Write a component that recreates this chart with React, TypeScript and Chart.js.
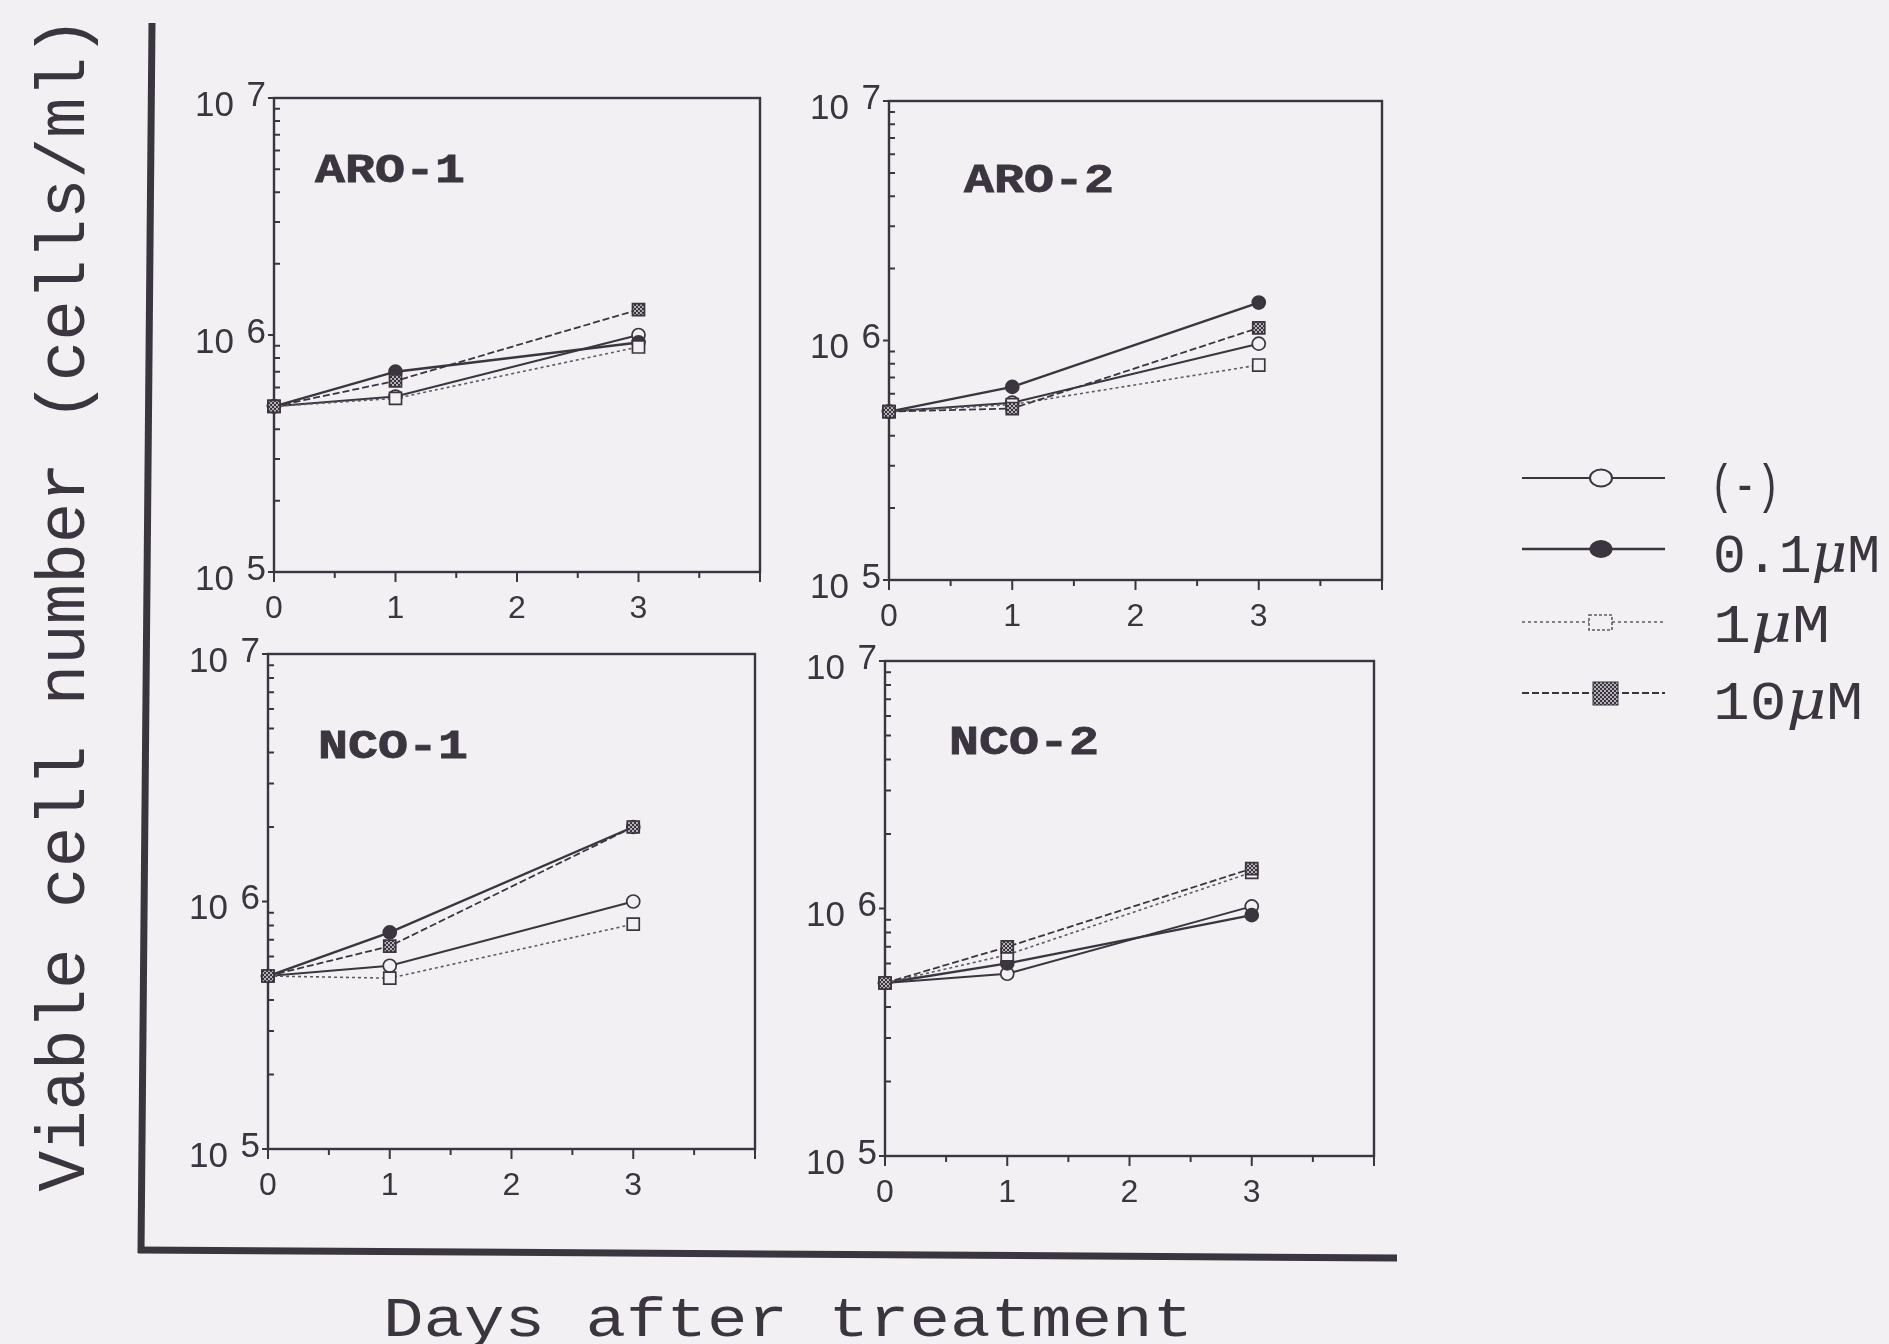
import React, { useEffect, useRef } from "react";
import { Chart, registerables } from "chart.js";

Chart.register(...registerables);

// ---- data ---------------------------------------------------------------
const DAYS = [0, 1, 3];
const SERIES_LABELS = ["(-)", "0.1μM", "1μM", "10μM"];
const PANEL_NAMES = ["ARO-1", "ARO-2", "NCO-1", "NCO-2"];

// viable cells / ml, one array per treatment and cell line
const ARO1_NONE = [5.0e5, 5.5e5, 1.0e6];
const ARO1_01 = [5.0e5, 7.0e5, 9.3e5];
const ARO1_1 = [5.0e5, 5.4e5, 8.9e5];
const ARO1_10 = [5.0e5, 6.4e5, 1.28e6];

const ARO2_NONE = [5.05e5, 5.5e5, 9.7e5];
const ARO2_01 = [5.05e5, 6.4e5, 1.44e6];
const ARO2_1 = [5.05e5, 5.4e5, 7.9e5];
const ARO2_10 = [5.05e5, 5.2e5, 1.13e6];

const NCO1_NONE = [5.0e5, 5.5e5, 1.0e6];
const NCO1_01 = [5.0e5, 7.5e5, 2.0e6];
const NCO1_1 = [5.0e5, 4.9e5, 8.1e5];
const NCO1_10 = [5.0e5, 6.6e5, 2.0e6];

const NCO2_NONE = [5.0e5, 5.45e5, 1.02e6];
const NCO2_01 = [5.0e5, 6.0e5, 9.4e5];
const NCO2_1 = [5.0e5, 6.5e5, 1.4e6];
const NCO2_10 = [5.0e5, 7.0e5, 1.45e6];

const PANEL_SERIES = [
  [ARO1_NONE, ARO1_01, ARO1_1, ARO1_10],
  [ARO2_NONE, ARO2_01, ARO2_1, ARO2_10],
  [NCO1_NONE, NCO1_01, NCO1_1, NCO1_10],
  [NCO2_NONE, NCO2_01, NCO2_1, NCO2_10],
];

// axis ticks
const X_MIN = 0;
const X_MAX = 4;
const X_TICK_STEP = 0.5;
const X_TICK_LABELS = ["0", "1", "2", "3"];
const Y_DECADES = [1e5, 1e6, 1e7];
const Y_EXPONENTS = ["5", "6", "7"];
const Y_MINOR_MULTIPLIERS = [2, 3, 4, 5, 6, 7, 8, 9];

const Y_TITLE = "Viable cell number (cells/ml)";
const X_TITLE = "Days after treatment";

// ---- look ---------------------------------------------------------------
const INK = "#3b3540";
const GREY_INK = "#5f5963";
const PAPER = "#f3f0f3";
const MONO = "'Liberation Mono', 'Courier New', monospace";
const SANS = "'Liberation Sans', Arial, sans-serif";

// plot areas (chart area rectangles) of the four panels
const PANEL_RECTS = [
  { left: 274, top: 98, right: 760, bottom: 572 },
  { left: 889, top: 101, right: 1382, bottom: 580 },
  { left: 268, top: 654, right: 755, bottom: 1149 },
  { left: 885, top: 661, right: 1374, bottom: 1156 },
];
const PANEL_TITLE_POS = [
  { x: 315, y: 182 },
  { x: 964, y: 192 },
  { x: 318, y: 758 },
  { x: 949, y: 754 },
];
const PAD = { left: 100, top: 30, right: 24, bottom: 64 };

function makeChecker(): CanvasPattern | string {
  const c = document.createElement("canvas");
  c.width = 4;
  c.height = 4;
  const g = c.getContext("2d");
  if (!g) return INK;
  g.fillStyle = "#b5afb8";
  g.fillRect(0, 0, 4, 4);
  g.fillStyle = INK;
  g.fillRect(0, 0, 2, 2);
  g.fillRect(2, 2, 2, 2);
  return g.createPattern(c, "repeat") || INK;
}

// frame, ticks and tick labels of one panel, placed through the chart scales
const panelFrame = {
  id: "panelFrame",
  beforeDatasetsDraw(chart: any) {
    const { ctx, chartArea: a, scales } = chart;
    const x = scales.x;
    const y = scales.y;
    ctx.save();
    ctx.strokeStyle = INK;
    ctx.lineWidth = 2.4;
    ctx.strokeRect(a.left, a.top, a.right - a.left, a.bottom - a.top);

    ctx.lineWidth = 2;
    ctx.beginPath();
    for (let v = X_MIN; v <= X_MAX + 1e-9; v += X_TICK_STEP) {
      const px = x.getPixelForValue(v);
      const len = Math.abs(v - Math.round(v)) < 1e-9 ? 10 : 6;
      ctx.moveTo(px, a.bottom);
      ctx.lineTo(px, a.bottom + len);
    }
    Y_DECADES.forEach((d) => {
      const py = y.getPixelForValue(d);
      ctx.moveTo(a.left - 6, py);
      ctx.lineTo(a.left, py);
    });
    Y_DECADES.slice(0, -1).forEach((d) => {
      Y_MINOR_MULTIPLIERS.forEach((m) => {
        const py = y.getPixelForValue(d * m);
        ctx.moveTo(a.left, py);
        ctx.lineTo(a.left + 6, py);
      });
    });
    ctx.stroke();

    ctx.fillStyle = INK;
    ctx.textBaseline = "middle";
    ctx.textAlign = "center";
    ctx.font = `32px ${SANS}`;
    X_TICK_LABELS.forEach((l) => {
      ctx.fillText(l, x.getPixelForValue(Number(l)), a.bottom + 37);
    });

    ctx.textAlign = "right";
    ctx.font = `35px ${SANS}`;
    Y_DECADES.forEach((d, i) => {
      const py = y.getPixelForValue(d);
      ctx.fillText("10", a.left - 40, py + 8);
      ctx.fillText(Y_EXPONENTS[i], a.left - 8, py - 2);
    });
    ctx.restore();
  },
};

function Panel({ index }: { index: number }) {
  const ref = useRef<HTMLCanvasElement>(null);
  const r = PANEL_RECTS[index];
  const w = r.right - r.left + PAD.left + PAD.right;
  const h = r.bottom - r.top + PAD.top + PAD.bottom;

  useEffect(() => {
    if (!ref.current) return;
    const checker = makeChecker();
    const series = PANEL_SERIES[index];
    const styles = [
      { borderColor: INK, borderWidth: 2, borderDash: [] as number[], pointStyle: "circle", pointRadius: 6.5, pointBackgroundColor: PAPER, order: 3 },
      { borderColor: INK, borderWidth: 2.4, borderDash: [] as number[], pointStyle: "circle", pointRadius: 6.5, pointBackgroundColor: INK, order: 2 },
      { borderColor: GREY_INK, borderWidth: 1.6, borderDash: [3, 3], pointStyle: "rect", pointRadius: 8.5, pointBackgroundColor: PAPER, order: 1 },
      { borderColor: INK, borderWidth: 1.8, borderDash: [7, 3], pointStyle: "rect", pointRadius: 8.5, pointBackgroundColor: checker, order: 0 },
    ];
    const chart = new Chart(ref.current, {
      type: "line",
      data: {
        datasets: series.map((vals, i) => ({
          label: SERIES_LABELS[i],
          data: DAYS.map((d, k) => ({ x: d, y: vals[k] })),
          order: styles[i].order,
          borderColor: styles[i].borderColor,
          borderWidth: styles[i].borderWidth,
          borderDash: styles[i].borderDash,
          pointStyle: styles[i].pointStyle as any,
          pointRadius: styles[i].pointRadius,
          pointBorderWidth: 1.7,
          pointBorderColor: INK,
          pointBackgroundColor: styles[i].pointBackgroundColor as any,
          tension: 0,
          fill: false,
          clip: false as any,
        })),
      },
      options: {
        animation: false,
        responsive: false,
        maintainAspectRatio: false,
        devicePixelRatio: 1,
        layout: { padding: PAD },
        plugins: { legend: { display: false }, tooltip: { enabled: false }, title: { display: false } },
        scales: {
          x: { type: "linear", min: X_MIN, max: X_MAX, display: false },
          y: { type: "logarithmic", min: Y_DECADES[0], max: Y_DECADES[Y_DECADES.length - 1], display: false },
        },
      },
      plugins: [panelFrame],
    });
    return () => chart.destroy();
  }, [index]);

  return (
    <canvas
      ref={ref}
      width={w}
      height={h}
      style={{ position: "absolute", left: r.left - PAD.left, top: r.top - PAD.top, width: w, height: h }}
    />
  );
}

function LegendText({ label, x, y, len }: { label: string; x: number; y: number; len: number }) {
  const parts = label.split("μ");
  return (
    <text x={x} y={y} fontFamily={MONO} fontSize={54} fill={INK} textLength={len} lengthAdjust="spacingAndGlyphs">
      {parts.length === 1 ? (
        label
      ) : (
        <>
          {parts[0]}
          <tspan fontStyle="italic" fontFamily="'DejaVu Serif', serif">μ</tspan>
          {parts[1]}
        </>
      )}
    </text>
  );
}

export default function App() {
  const legendLineY = [478, 549, 622, 693];
  const legendBase = [502, 572, 642, 719];
  const legendLen = [70, 167, 117, 150];

  return (
    <div style={{ position: "absolute", left: 0, top: 0, width: 1889, height: 1344, background: PAPER, overflow: "hidden" }}>
      {PANEL_RECTS.map((_, i) => (
        <Panel key={i} index={i} />
      ))}
      <svg width={1889} height={1344} style={{ position: "absolute", left: 0, top: 0, pointerEvents: "none" }}>
        <defs>
          <pattern id="checker" width="4" height="4" patternUnits="userSpaceOnUse">
            <rect width="4" height="4" fill="#b5afb8" />
            <rect width="2" height="2" fill={INK} />
            <rect x="2" y="2" width="2" height="2" fill={INK} />
          </pattern>
        </defs>

        {/* outer L-shaped frame */}
        <line x1={152} y1={23} x2={141} y2={1253} stroke={INK} strokeWidth={7} />
        <line x1={138} y1={1250} x2={1397} y2={1258} stroke={INK} strokeWidth={7} />

        {/* axis titles */}
        <text
          transform="translate(84 604) rotate(-90)"
          textAnchor="middle"
          fontFamily={MONO}
          fontSize={68}
          fill={INK}
          textLength={1175}
          lengthAdjust="spacingAndGlyphs"
        >
          {Y_TITLE}
        </text>
        <text x={383} y={1336} fontFamily={MONO} fontSize={55} fill={INK} textLength={810} lengthAdjust="spacingAndGlyphs">
          {X_TITLE}
        </text>

        {/* panel names */}
        {PANEL_NAMES.map((n, i) => (
          <text
            key={n}
            x={PANEL_TITLE_POS[i].x}
            y={PANEL_TITLE_POS[i].y}
            fontFamily={MONO}
            fontWeight="bold"
            fontSize={41}
            fill={INK}
            stroke={INK}
            strokeWidth={0.8}
            textLength={150}
            lengthAdjust="spacingAndGlyphs"
          >
            {n}
          </text>
        ))}

        {/* legend */}
        <line x1={1522} y1={legendLineY[0]} x2={1665} y2={legendLineY[0]} stroke={INK} strokeWidth={2} />
        <ellipse cx={1601} cy={legendLineY[0]} rx={11} ry={8.5} fill={PAPER} stroke={INK} strokeWidth={2} />

        <line x1={1522} y1={legendLineY[1]} x2={1665} y2={legendLineY[1]} stroke={INK} strokeWidth={2.4} />
        <ellipse cx={1601} cy={legendLineY[1]} rx={11.5} ry={9} fill={INK} />

        <line x1={1522} y1={legendLineY[2]} x2={1665} y2={legendLineY[2]} stroke={GREY_INK} strokeWidth={1.6} strokeDasharray="3 3" />
        <rect x={1589} y={legendLineY[2] - 7} width={23} height={15} fill={PAPER} stroke={GREY_INK} strokeWidth={1.6} strokeDasharray="3 2" />

        <line x1={1522} y1={legendLineY[3]} x2={1665} y2={legendLineY[3]} stroke={INK} strokeWidth={1.8} strokeDasharray="7 3" />
        <rect x={1593} y={legendLineY[3] - 11} width={25} height={23} fill="url(#checker)" stroke={INK} strokeWidth={1} />

        {SERIES_LABELS.map((l, i) => (
          <LegendText key={l} label={l} x={i === 0 ? 1710 : 1713} y={legendBase[i]} len={legendLen[i]} />
        ))}
      </svg>
    </div>
  );
}
